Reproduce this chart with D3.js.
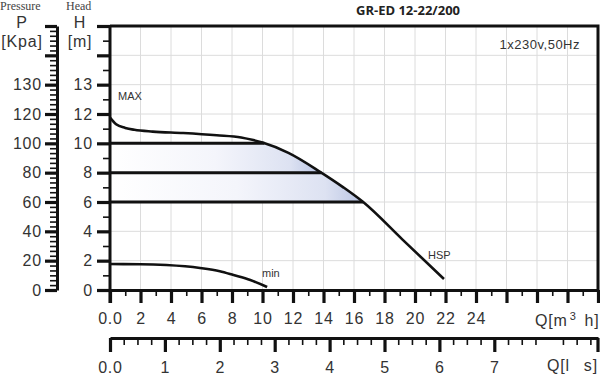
<!DOCTYPE html>
<html lang="en">
<head>
<meta charset="utf-8"/>
<script src="https://d3js.org/d3.v7.min.js"></script>
<title>GR-ED 12-22/200</title>
<style>
  body { margin: 0; background: #fff; }
  svg { display: block; }
  .lbl { font-family: "Liberation Sans", Arial, sans-serif; fill: #333; }
</style>
</head>
<body>
<svg id="chart" width="600" height="376"></svg>
<script>
// pump curves, Q in m3/h, H in m
const qMax = [0, 0.4, 1.0, 1.6, 2.8, 4.8, 7.0, 8.6, 9.4, 10.0, 11.7, 13.8, 15.3, 16.6, 19.2, 21.9];
const hMax = [11.75, 11.3, 11.05, 10.92, 10.8, 10.7, 10.55, 10.4, 10.22, 10.05, 9.35, 8.04, 7.0, 6.0, 3.42, 0.75];
const qMin = [0, 2, 3.7, 5.9, 7.2, 8.1, 9.2, 10.3];
const hMin = [1.77, 1.76, 1.70, 1.50, 1.28, 1.02, 0.68, 0.2];
const bandLevels = [10, 8, 6];

// tick labels
const hMajor = [0, 2, 4, 6, 8, 10, 12, 14, 16, 18];
const hLabels = ["0", "2", "4", "6", "8", "10", "12", "13", "", ""];
const pMajor = [0, 20, 40, 60, 80, 100, 120, 140, 160, 180];
const pLabels = ["0", "20", "40", "60", "80", "100", "120", "130", "", ""];
const qMajor = [0, 2, 4, 6, 8, 10, 12, 14, 16, 18, 20, 22, 24, 26, 28, 30, 32];
const qLabels = ["0.0", "2", "4", "6", "8", "10", "12", "14", "16", "18", "20", "22", "24", "", "", "", ""];
const lMajor = [0, 1, 2, 3, 4, 5, 6, 7];
const lLabels = ["0.0", "1", "2", "3", "4", "5", "6", "7"];

const svg = d3.select("#chart");

const x = d3.scaleLinear().domain([0, 32]).range([110, 598]);
const xl = d3.scaleLinear().domain([0, 32 / 3.6]).range([110, 598]);
const y = d3.scaleLinear().domain([0, 18]).range([290, 26]);
const yp = d3.scaleLinear().domain([0, 180]).range([290, 26]);

const defs = svg.append("defs");

// grid
const grid = svg.append("g").attr("stroke", "#dcdcdc").attr("stroke-width", 1);
grid.selectAll("line.v").data(d3.range(2, 32, 2)).enter().append("line")
  .attr("x1", d => x(d)).attr("x2", d => x(d))
  .attr("y1", y(18)).attr("y2", y(0));
grid.selectAll("line.h").data(d3.range(2, 18, 2)).enter().append("line")
  .attr("x1", x(0)).attr("x2", x(32))
  .attr("y1", d => y(d)).attr("y2", d => y(d));

// where the MAX curve crosses a given head
function qAt(h) {
  for (let i = 0; i < hMax.length - 1; i++) {
    if (hMax[i] >= h && hMax[i + 1] <= h) {
      const t = (hMax[i] - h) / (hMax[i] - hMax[i + 1]);
      return qMax[i] + t * (qMax[i + 1] - qMax[i]);
    }
  }
  return 0;
}

const maxPts = qMax.map((q, i) => [q, hMax[i]]);
const minPts = qMin.map((q, i) => [q, hMin[i]]);

// shaded bands between 10-8 and 8-6
for (let b = 0; b < bandLevels.length - 1; b++) {
  const hi = bandLevels[b], lo = bandLevels[b + 1];
  const gid = "grad" + b;
  const g = defs.append("linearGradient").attr("id", gid)
    .attr("gradientUnits", "userSpaceOnUse")
    .attr("x1", x(0)).attr("x2", x(qAt(lo))).attr("y1", 0).attr("y2", 0);
  g.append("stop").attr("offset", "0").attr("stop-color", "#ffffff");
  g.append("stop").attr("offset", "0.5").attr("stop-color", "#f4f5fb");
  g.append("stop").attr("offset", "0.85").attr("stop-color", "#dde2f2");
  g.append("stop").attr("offset", "1").attr("stop-color", "#b9c4e3");
  const cid = "clip" + b;
  defs.append("clipPath").attr("id", cid).append("rect")
    .attr("x", x(0)).attr("y", y(hi)).attr("width", x(32) - x(0)).attr("height", y(lo) - y(hi));
  const area = d3.area().x(d => x(d[0])).y0(y(lo)).y1(d => y(d[1])).curve(d3.curveMonotoneX);
  svg.append("path").datum(maxPts).attr("d", area)
    .attr("fill", "url(#" + gid + ")").attr("clip-path", "url(#" + cid + ")");
}

// horizontal lines
svg.selectAll("line.band").data(bandLevels).enter().append("line")
  .attr("x1", x(0)).attr("x2", d => x(qAt(d)))
  .attr("y1", d => y(d)).attr("y2", d => y(d))
  .attr("stroke", "#111").attr("stroke-width", 3);

// curves
const line = d3.line().x(d => x(d[0])).y(d => y(d[1])).curve(d3.curveMonotoneX);
svg.append("path").datum(maxPts).attr("d", line)
  .attr("fill", "none").attr("stroke", "#111").attr("stroke-width", 2.6);
svg.append("path").datum(minPts).attr("d", line)
  .attr("fill", "none").attr("stroke", "#111").attr("stroke-width", 2.6);

// border top and right
svg.append("path")
  .attr("d", `M${x(0)},${y(18)}H${x(32)}V${y(0)}`)
  .attr("fill", "none").attr("stroke", "#111").attr("stroke-width", 3);

function styleAxis(g, fs) {
  g.select(".domain").attr("stroke", "#111").attr("stroke-width", 3);
  g.selectAll(".tick line").attr("stroke", "#111");
  g.selectAll(".tick text").attr("class", "lbl").attr("font-size", fs)
    .attr("letter-spacing", "0.8px").attr("fill", "#333");
  g.attr("font-family", null).attr("font-size", null);
}
function minorAxis(axisFn, scale, vals, size, tx, ty) {
  const g = svg.append("g").attr("transform", `translate(${tx},${ty})`)
    .call(axisFn(scale).tickValues(vals).tickSize(size).tickFormat(""));
  g.select(".domain").remove();
  g.selectAll(".tick line").attr("stroke", "#111").attr("stroke-width", 1.6);
}

// H axis
minorAxis(d3.axisLeft, y, d3.range(1, 18, 2), 7, 110, 0);
const hAx = svg.append("g").attr("transform", "translate(110,0)")
  .call(d3.axisLeft(y).tickValues(hMajor).tickSize(13).tickSizeOuter(0).tickPadding(4)
    .tickFormat((d, i) => hLabels[i]));
styleAxis(hAx, 16);
hAx.selectAll(".tick line").attr("stroke-width", 3.2);
hAx.select(".domain").attr("d", `M0,${y(18)}V${y(0) + 13}`);

// P axis
const pMinor = d3.range(0, 180.01, 20 / 6).filter(v => Math.abs(v / 20 - Math.round(v / 20)) > 0.01);
minorAxis(d3.axisLeft, yp, pMinor, 7, 57, 0);
const pAx = svg.append("g").attr("transform", "translate(57,0)")
  .call(d3.axisLeft(yp).tickValues(pMajor).tickSize(12).tickSizeOuter(0).tickPadding(3)
    .tickFormat((d, i) => pLabels[i]));
styleAxis(pAx, 16);
pAx.selectAll(".tick line").attr("stroke-width", 3.2);

// Q m3/h axis
minorAxis(d3.axisBottom, x, d3.range(1, 32, 2), 6, 0, 290);
const qAx = svg.append("g").attr("transform", "translate(0,290)")
  .call(d3.axisBottom(x).tickValues(qMajor).tickSize(13).tickSizeOuter(0).tickPadding(10)
    .tickFormat((d, i) => qLabels[i]));
styleAxis(qAx, 16);
qAx.selectAll(".tick line").attr("stroke-width", 3.2);

// Q l/s axis
const lMinor = d3.range(0.25, 32 / 3.6, 0.25).filter(v => Math.abs(v - Math.round(v)) > 0.01);
minorAxis(d3.axisBottom, xl, lMinor, 7, 0, 338);
const lAx = svg.append("g").attr("transform", "translate(0,338)")
  .call(d3.axisBottom(xl).tickValues(lMajor).tickSize(14).tickSizeOuter(0).tickPadding(10)
    .tickFormat((d, i) => lLabels[i]));
styleAxis(lAx, 16);
lAx.selectAll(".tick line").attr("stroke-width", 3.2);
lAx.append("line").attr("x1", 598).attr("x2", 598).attr("y1", 0).attr("y2", 14)
  .attr("stroke", "#111").attr("stroke-width", 3.2);

// axis unit labels
const t1 = svg.append("text").attr("class", "lbl").attr("x", 535).attr("y", 326)
  .attr("font-size", 16).attr("letter-spacing", "0.8px");
t1.append("tspan").text("Q[m");
t1.append("tspan").attr("font-size", 11).attr("dy", -6).attr("dx", 2).text("3");
t1.append("tspan").attr("dy", 6).attr("dx", 8).text("h]");
const t2 = svg.append("text").attr("class", "lbl").attr("x", 547).attr("y", 371)
  .attr("font-size", 16).attr("letter-spacing", "0.8px");
t2.append("tspan").text("Q[l");
t2.append("tspan").attr("dx", 14).text("s]");

// header texts
svg.append("text").attr("x", 0).attr("y", 10).text("Pressure")
  .attr("font-family", "Liberation Serif, serif").attr("font-size", 12).attr("fill", "#444");
svg.append("text").attr("x", 66).attr("y", 10).text("Head")
  .attr("font-family", "Liberation Serif, serif").attr("font-size", 12).attr("fill", "#444");
[["P", 22, 28], ["[Kpa]", 22, 47], ["H", 80, 28], ["[m]", 80, 47]].forEach(d => {
  svg.append("text").attr("class", "lbl").attr("x", d[1]).attr("y", d[2])
    .attr("text-anchor", "middle").attr("font-size", 16).attr("letter-spacing", "0.8px").text(d[0]);
});

svg.append("text").attr("x", 408).attr("y", 15).attr("text-anchor", "middle")
  .attr("font-family", "Open Sans, sans-serif").attr("font-weight", "bold")
  .attr("font-size", 13).attr("fill", "#222").text("GR-ED 12-22/200");
svg.append("text").attr("class", "lbl").attr("x", 580).attr("y", 49).attr("text-anchor", "end")
  .attr("font-size", 13).attr("letter-spacing", "0.5px").text("1x230v,50Hz");

// curve labels
svg.append("text").attr("class", "lbl").attr("x", 118).attr("y", 100).attr("font-size", 11).text("MAX");
svg.append("text").attr("class", "lbl").attr("x", 262).attr("y", 277).attr("font-size", 11).text("min");
svg.append("text").attr("class", "lbl").attr("x", 428).attr("y", 259).attr("font-size", 11).text("HSP");
</script>
</body>
</html>
